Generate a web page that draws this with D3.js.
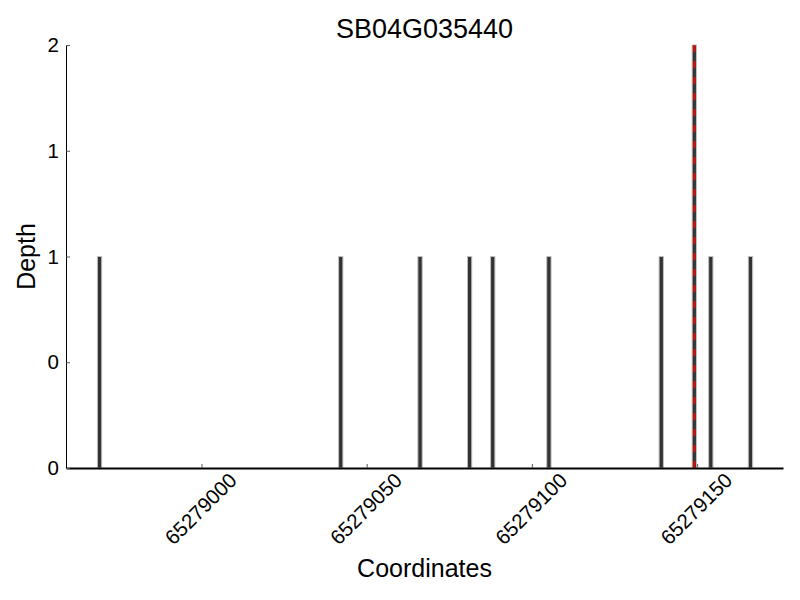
<!DOCTYPE html>
<html>
<head>
<meta charset="utf-8">
<script src="https://cdn.jsdelivr.net/npm/d3@7"></script>
<style>
  body { margin: 0; background: #fff; }
  text { font-family: "Liberation Sans", Arial, sans-serif; fill: #000; }
</style>
</head>
<body>
<div id="container"></div>
<script>
// data
const title = "SB04G035440";
const positions = [65278969, 65279042, 65279066, 65279081, 65279088, 65279105, 65279139, 65279149, 65279154, 65279166];
const depths = [1, 1, 1, 1, 1, 1, 1, 2, 1, 1];
const markedPosition = 65279149;
const xDomain = [65278959, 65279176];
const xTicks = [65279000, 65279050, 65279100, 65279150];
const yTicks = [0, 0.5, 1, 1.5, 2];

const width = 800, height = 600;
const margin = { top: 45, right: 17, bottom: 132, left: 66 };

const svg = d3.select("#container").append("svg")
    .attr("width", width).attr("height", height);

const x = d3.scaleLinear().domain(xDomain).range([margin.left, width - margin.right]);
const y = d3.scaleLinear().domain([0, 2]).range([height - margin.bottom, margin.top]);

// bars, roughly one base wide
const barW = x(1) - x(0) + 1;
svg.selectAll("rect.bar")
    .data(positions)
    .enter()
    .append("rect")
    .attr("class", "bar")
    .attr("x", d => x(d) - barW / 2 + 0.5)
    .attr("y", (d, i) => y(depths[i]))
    .attr("width", barW)
    .attr("height", (d, i) => y(0) - y(depths[i]))
    .attr("fill", "#333")
    .attr("stroke", "#c0c0c0")
    .attr("stroke-width", 1);

// marked position
svg.append("line")
    .attr("x1", x(markedPosition) + 0.5).attr("x2", x(markedPosition) + 0.5)
    .attr("y1", y(0)).attr("y2", y(2))
    .attr("stroke", "red")
    .attr("stroke-width", 2)
    .attr("stroke-dasharray", "7,9");

// axes
const xAxis = svg.append("g")
    .attr("transform", `translate(0,${y(0)})`)
    .call(d3.axisBottom(x).tickValues(xTicks).tickSize(-4).tickFormat(d3.format("d")).tickSizeOuter(0));
xAxis.select(".domain").attr("stroke-width", 2);
xAxis.selectAll(".tick line").attr("stroke", "#555");
xAxis.selectAll(".tick text")
    .attr("font-size", 20.5)
    .attr("text-anchor", "middle")
    .attr("dy", null)
    .attr("y", 42)
    .attr("transform", "rotate(-45 0 42)")
    .attr("dominant-baseline", "middle");

const yAxis = svg.append("g")
    .attr("transform", `translate(${x(xDomain[0])},0)`)
    .call(d3.axisLeft(y).tickValues(yTicks).tickSize(-4).tickFormat(d => Math.floor(d)).tickSizeOuter(0));
yAxis.selectAll(".tick text").attr("font-size", 20.5).attr("x", -7);
yAxis.selectAll(".tick line").attr("stroke", "#555");

// titles
svg.append("text")
    .attr("x", (x.range()[0] + x.range()[1]) / 2)
    .attr("y", 38)
    .attr("text-anchor", "middle")
    .attr("font-size", 27)
    .text(title);

svg.append("text")
    .attr("x", (x.range()[0] + x.range()[1]) / 2)
    .attr("y", 577)
    .attr("text-anchor", "middle")
    .attr("font-size", 25)
    .text("Coordinates");

svg.append("text")
    .attr("transform", `translate(35,${(y(0) + y(2)) / 2}) rotate(-90)`)
    .attr("text-anchor", "middle")
    .attr("font-size", 25)
    .text("Depth");
</script>
</body>
</html>
